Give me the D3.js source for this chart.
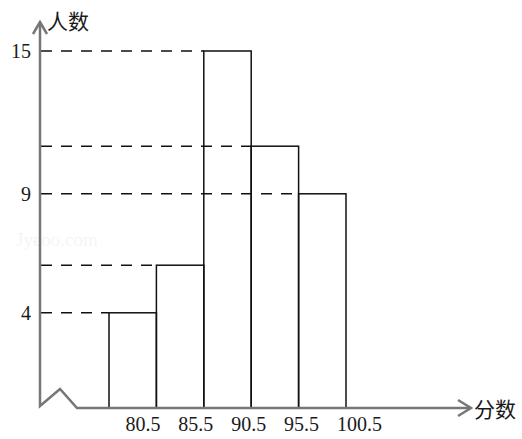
<!DOCTYPE html>
<html>
<head>
<meta charset="utf-8">
<script src="https://cdn.jsdelivr.net/npm/d3@7"></script>
<style>
  html, body { margin: 0; padding: 0; background: #fff; }
  svg { display: block; }
</style>
</head>
<body>
<svg id="chart" width="522" height="439"></svg>
<script>
// Data
const binStarts = [75.5, 80.5, 85.5, 90.5, 95.5];
const binWidth = 5;
const counts = [4, 6, 15, 11, 9];
const xTickLabels = ["80.5", "85.5", "90.5", "95.5", "100.5"];
const yTickLabels = [4, 9, 15];
const yAxisTitle = "人数";
const xAxisTitle = "分数";

const svg = d3.select("#chart");
const x = d3.scaleLinear().domain([75.5, 100.5]).range([109, 346]);
const y = d3.scaleLinear().domain([0, 15]).range([408, 51]);

const axisColor = "#777";
const numFont = "'Liberation Serif', 'DejaVu Serif', serif";
const cjkFont = "'Noto Sans CJK SC', sans-serif";

// faint watermark
svg.append("text").attr("x", 16).attr("y", 246)
  .attr("font-family", numFont).attr("font-size", 19)
  .attr("fill", "#f5f5f5").text("Jyeoo.com");

// dashed guide lines from axis to each bar's left edge
svg.append("g").selectAll("line").data(counts).join("line")
  .attr("x1", 41).attr("x2", (d, i) => x(binStarts[i]))
  .attr("y1", d => y(d)).attr("y2", d => y(d))
  .attr("stroke", "#111").attr("stroke-width", 1.5)
  .attr("stroke-dasharray", "11,9");

// bars
svg.append("g").selectAll("rect").data(counts).join("rect")
  .attr("x", (d, i) => x(binStarts[i]))
  .attr("width", (d, i) => x(binStarts[i] + binWidth) - x(binStarts[i]))
  .attr("y", d => y(d))
  .attr("height", d => y(0) - y(d))
  .attr("fill", "none").attr("stroke", "#111").attr("stroke-width", 1.5);

// axes
const ax = svg.append("g").attr("fill", "none").attr("stroke", axisColor)
  .attr("stroke-width", 2.5).attr("stroke-linejoin", "miter");
ax.append("path").attr("d", d3.line()([
  [40, 24], [40, 406], [60, 389], [77, 408], [471, 408]
]));
ax.append("path").attr("d", d3.line()([[33, 34], [40, 22], [47, 34]]));
ax.append("path").attr("d", d3.line()([[458, 400], [471, 408], [458, 416]]));

// y tick labels
svg.append("g").selectAll("text").data(yTickLabels).join("text")
  .attr("x", 31).attr("y", d => y(d)).attr("dy", "0.35em")
  .attr("text-anchor", "end")
  .attr("font-family", numFont).attr("font-size", 20).attr("fill", "#1a1a1a")
  .text(d => d);

// x tick labels (typeset as one line under the axis)
const xLab = svg.append("text").attr("y", 431)
  .attr("font-family", numFont).attr("font-size", 20).attr("fill", "#1a1a1a");
xTickLabels.forEach((t, i) => {
  xLab.append("tspan")
    .attr("x", x(binStarts[i] + binWidth) - 31 + i * 5.5)
    .text(t);
});

// axis titles
svg.append("text").attr("x", 47).attr("y", 29)
  .attr("font-family", cjkFont).attr("font-size", 21).attr("fill", "#1a1a1a")
  .text(yAxisTitle);
svg.append("text").attr("x", 474).attr("y", 417)
  .attr("font-family", cjkFont).attr("font-size", 21).attr("fill", "#1a1a1a")
  .text(xAxisTitle);
</script>
</body>
</html>
